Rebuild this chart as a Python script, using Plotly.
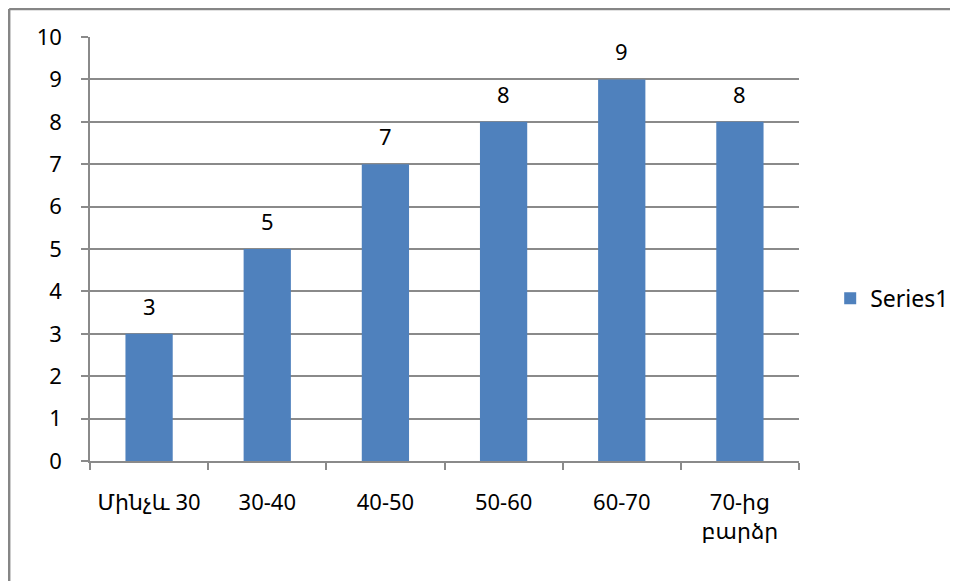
import plotly.graph_objects as go

categories = ["Մինչև 30", "30-40", "40-50", "50-60", "60-70", "70-ից<br>բարձր"]
values = [3, 5, 7, 8, 9, 8]
series_name = "Series1"
y_ticks = list(range(0, 11))

font_family = "Noto Sans, DejaVu Sans, sans-serif"
axis_color = "#8a8a8a"
border_color = "#868686"

fig = go.Figure()
fig.add_trace(go.Bar(
    x=categories, y=values, name=series_name,
    marker=dict(color="#4F81BD", line=dict(width=0)),
))

for c, v in zip(categories, values):
    fig.add_annotation(x=c, y=v, text=str(v), showarrow=False,
                       yanchor="middle", yshift=28,
                       font=dict(size=22, color="#000000", family=font_family))

fig.update_layout(
    width=958, height=581,
    margin=dict(l=82, r=163, t=29, b=128),
    paper_bgcolor="white", plot_bgcolor="white",
    bargap=0.6,
    showlegend=True,
    legend=dict(x=1.044, y=0.384, xanchor="left", yanchor="middle",
                font=dict(size=23, color="#000000", family=font_family),
                itemwidth=30, tracegroupgap=0),
    font=dict(family=font_family, size=22, color="#000000"),
    shapes=[
        dict(type="line", xref="paper", yref="paper",
             x0=-0.114, x1=-0.114, y0=-0.6, y1=1.066,
             line=dict(color=border_color, width=2.5)),
        dict(type="line", xref="paper", yref="paper",
             x0=-0.114, x1=1.5, y0=1.066, y1=1.066,
             line=dict(color=border_color, width=2.5)),
    ],
)

fig.update_xaxes(
    type="category", showgrid=False, showline=True, linecolor=axis_color, linewidth=1.5,
    ticks="outside", tickson="boundaries", ticklen=7, tickcolor=axis_color, tickwidth=1.5,
    tickfont=dict(size=22, color="#000000", family=font_family),
    ticklabelstandoff=21,
)
fig.update_yaxes(
    range=[0, 10], tickvals=y_ticks, showgrid=True, gridcolor=axis_color, gridwidth=1.5,
    showline=True, linecolor=axis_color, linewidth=1.5,
    ticks="outside", ticklen=7, tickcolor=axis_color, tickwidth=1.5,
    tickfont=dict(size=22, color="#000000", family=font_family),
    ticklabelstandoff=15, zeroline=False,
)

fig.write_html("out.html")
